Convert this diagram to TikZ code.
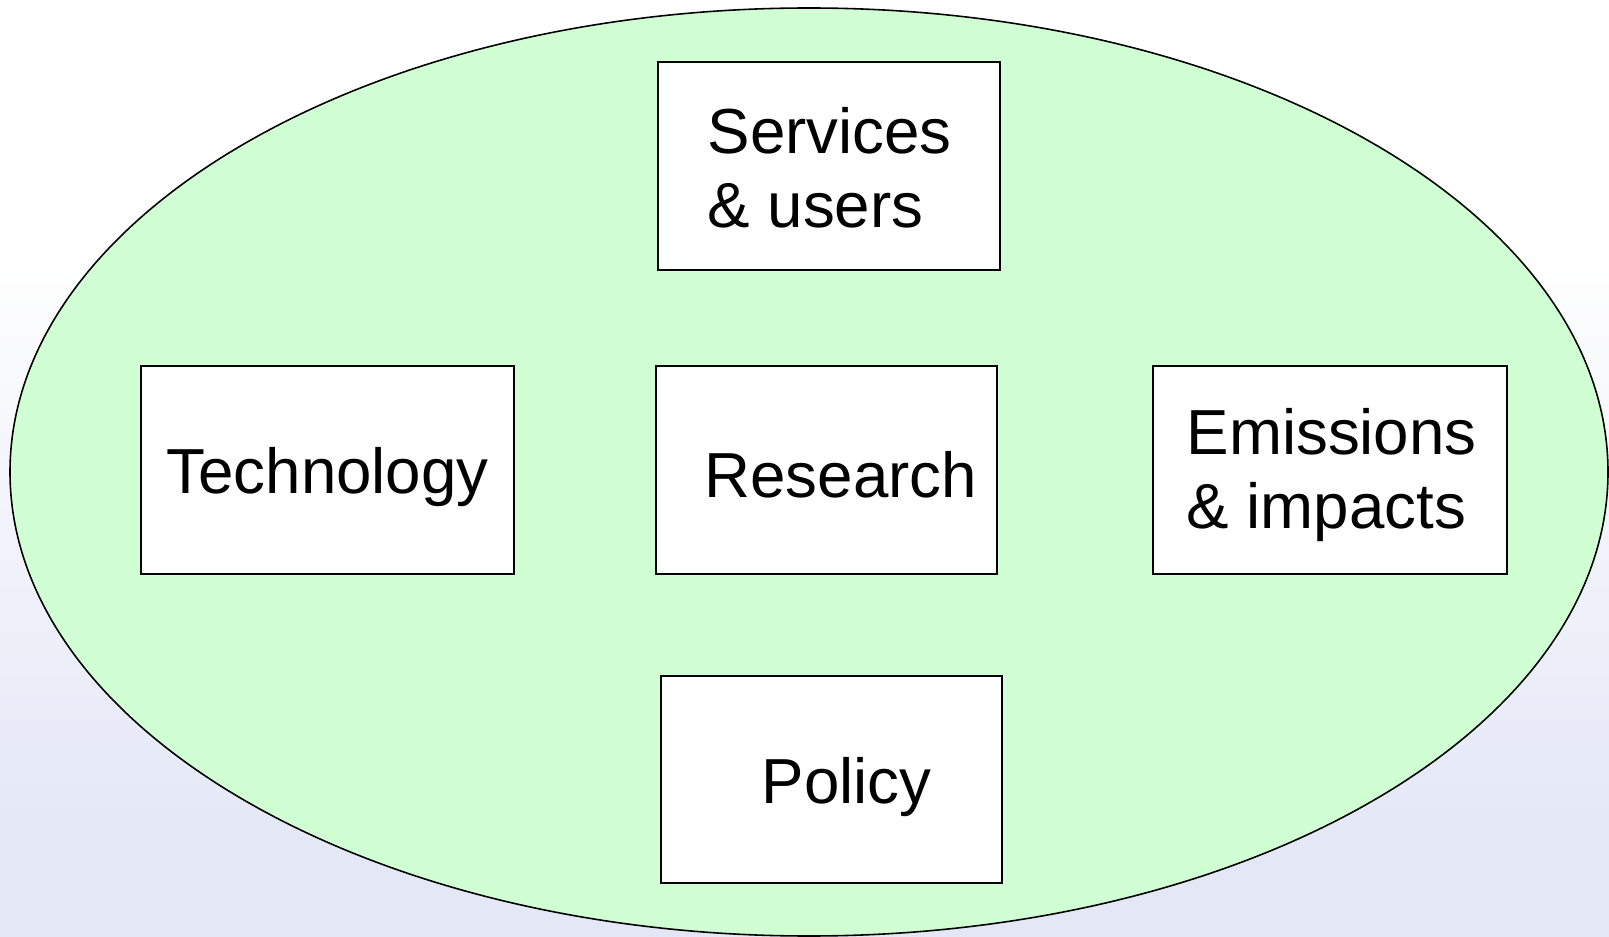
\documentclass[tikz,border=0pt]{standalone}
\usepackage{fontspec}
\setmainfont{Liberation Sans}
\usetikzlibrary{positioning}
\definecolor{bglow}{RGB}{223,227,245}
\definecolor{ovalgreen}{RGB}{208,255,212}
\pgfdeclareverticalshading{backdrop}{100bp}{color(0bp)=(bglow); color(30bp)=(bglow!85!white); color(62bp)=(white); color(100bp)=(white)}
\tikzstyle{box}=[draw=black,fill=white,line width=0.6pt,inner sep=0pt,minimum height=2.08cm]
\tikzstyle{lbl}=[inner sep=0pt,align=left,font=\fontsize{18.1}{21}\selectfont]

\begin{document}
\begin{tikzpicture}[x=0.01cm,y=-0.01cm]
  % Background.
  \useasboundingbox (0,0) rectangle (1609,937);
  \shade[shading=backdrop] (0,0) rectangle (1609,937);

  % Oval.
  \draw[fill=ovalgreen,line width=0.45pt] (809,472) ellipse [x radius=799,y radius=464];

  % Boxes.
  \node[box,minimum width=3.42cm] (serv) at (829,166) {};
  \node[box,minimum width=3.73cm] (tech) at (327.5,470) {};
  \node[box,minimum width=3.41cm] (res) at (826.5,470) {};
  \node[box,minimum width=3.54cm] (emis) at (1330,470) {};
  \node[box,minimum width=3.41cm,minimum height=2.07cm] (pol) at (831.5,779.5) {};

  % Box labels.
  \node[lbl,right=0.50cm of serv.west,yshift=-0.02cm] (servtext) {Services\\\& users};
  \node[lbl,right=0.26cm of tech.west,yshift=-0.07cm] (techtext) {Technology};
  \node[lbl,right=0.49cm of res.west,yshift=-0.05cm] (restext) {Research};
  \node[lbl,right=0.34cm of emis.west,yshift=-0.05cm] (emistext) {Emissions\\\& impacts};
  \node[lbl,right=1.01cm of pol.west,yshift=-0.08cm] (poltext) {Policy};
\end{tikzpicture}
\end{document}
